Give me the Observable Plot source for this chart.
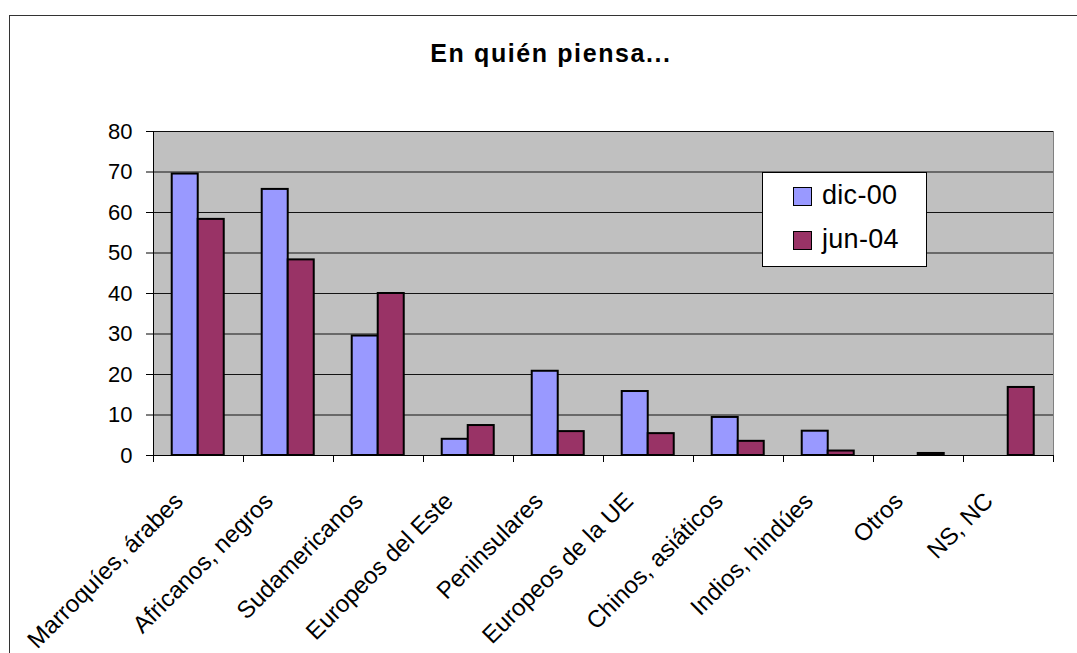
<!DOCTYPE html>
<html><head><meta charset="utf-8">
<script src="https://cdn.jsdelivr.net/npm/d3@7"></script>
<script src="https://cdn.jsdelivr.net/npm/@observablehq/plot@0.6"></script>
<style>
body{margin:0;width:1077px;height:653px;overflow:hidden;position:relative;background:#fff;font-family:"Liberation Sans",Arial,sans-serif;color:#000;}
#frame{position:absolute;left:9px;top:15px;width:1200px;height:800px;border:1.5px solid #333;}
#title{position:absolute;left:0;top:41px;width:1102px;text-align:center;font-weight:bold;font-size:25px;line-height:24px;letter-spacing:1.6px;}
#chart{position:absolute;left:0;top:100px;}
#legend{position:absolute;left:762px;top:172px;width:163px;height:93px;border:1px solid #000;background:#fff;}
.item{position:absolute;left:59px;font-size:27px;line-height:27px;white-space:nowrap;letter-spacing:0.3px;}
.sw{position:absolute;left:30px;width:17px;height:17px;border:1px solid #000;}
</style></head>
<body>
<div id="frame"></div>
<div id="title">En quién piensa...</div>
<div id="chart"></div>
<div id="legend"></div>
<script>
const categories = ["Marroquíes, árabes","Africanos, negros","Sudamericanos","Europeos del Este","Peninsulares","Europeos de la UE","Chinos, asiáticos","Indios, hindúes","Otros","NS, NC"];
const dic00 = [69.5, 65.7, 29.5, 4.0, 20.8, 15.8, 9.4, 6.0, null, null];
const jun04 = [58.3, 48.3, 40.0, 7.4, 5.9, 5.4, 3.5, 1.1, 0.5, 16.8];
const seriesNames = ["dic-00", "jun-04"];
const seriesColors = ["#9999FF", "#993366"];
const yTicks = [0, 10, 20, 30, 40, 50, 60, 70, 80];

const rows = categories.map((c, i) => ({cat: c, dic: dic00[i], jun: jun04[i]}));
const W = 1077, H = 553, mT = 31, mB = 198, mL = 153, mR = 24;
const plotH = H - mT - mB;
const band = (W - mL - mR) / categories.length;

const chart = Plot.plot({
  width: W, height: H,
  marginTop: mT, marginBottom: mB, marginLeft: mL, marginRight: mR,
  x: {domain: categories, padding: 0, axis: null},
  y: {domain: [0, 80], axis: null},
  style: {fontFamily: "'Liberation Sans', Arial, sans-serif", color: "#000", background: "transparent", overflow: "visible"},
  marks: [
    Plot.frame({fill: "#C0C0C0", stroke: "#808080"}),
    Plot.gridY(yTicks, {stroke: "#000", strokeOpacity: 0.9, strokeWidth: 1}),
    Plot.barY(rows.filter(d => d.dic != null), {x: "cat", y: "dic", fill: seriesColors[0], stroke: "#000", strokeWidth: 2, insetLeft: band * 0.208, insetRight: band * 0.503}),
    Plot.barY(rows.filter(d => d.jun != null), {x: "cat", y: "jun", fill: seriesColors[1], stroke: "#000", strokeWidth: 2, insetLeft: band * 0.497, insetRight: band * 0.214}),
    Plot.ruleY([0], {stroke: "#000", strokeWidth: 1}),
    Plot.ruleX(categories, {x: d => d, dx: -band / 2, insetTop: plotH, insetBottom: -7, stroke: "#000"}),
    Plot.ruleX([categories[0]], {x: d => d, dx: -band / 2, insetBottom: -7, stroke: "#000"}),
    Plot.ruleX([categories[categories.length - 1]], {x: d => d, dx: band / 2, insetTop: plotH, insetBottom: -7, stroke: "#000"}),
    Plot.axisY({ticks: yTicks, tickSize: 7, tickPadding: 14, fontSize: 22, tickFormat: d => d, stroke: "#000"}),
    Plot.text(categories, {x: d => d, text: d => d, frameAnchor: "bottom", rotate: -45, textAnchor: "end", lineAnchor: "bottom", dx: -14, dy: 47, fontSize: 24, fill: "#000"})
  ]
});
document.getElementById("chart").appendChild(chart);

const lg = document.getElementById("legend");
seriesNames.forEach((name, i) => {
  const sw = document.createElement("div");
  sw.className = "sw";
  sw.style.top = (14 + i * 44) + "px";
  sw.style.background = seriesColors[i];
  lg.appendChild(sw);
  const t = document.createElement("div");
  t.className = "item";
  t.style.top = (9 + i * 44) + "px";
  t.textContent = name;
  lg.appendChild(t);
});
</script>
</body></html>
